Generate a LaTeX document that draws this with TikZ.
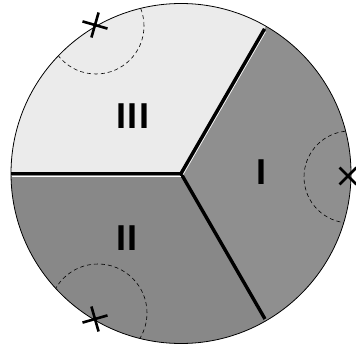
\documentclass[tikz,border=0pt]{standalone}
\usepackage{fontspec}
\setmainfont{Liberation Sans}
\definecolor{regI}{RGB}{143,143,143}
\definecolor{regII}{RGB}{136,136,136}
\definecolor{regIII}{RGB}{235,235,235}
\begin{document}
\begin{tikzpicture}[x=1pt,y=1pt,
  rim/.style={draw=black,line width=0.8pt},
  wall/.style={draw=black,line width=3.4pt},
  seam/.style={draw=white,line width=0.6pt},
  guide/.style={draw=black,line width=0.6pt,dash pattern=on 4pt off 3pt},
  crossline/.style={draw=black,line width=2.6pt},
  lab/.style={inner sep=0pt,font=\fontsize{36}{40}\selectfont\bfseries\addfontfeatures{LetterSpace=4.7}}]
\useasboundingbox (0,0) rectangle (356,346);
\coordinate (C) at (181,172.5);
% sectors
\fill[regIII] (C) -- ++(60:170pt) arc[start angle=60,end angle=180,radius=170pt] -- cycle;
\fill[regII] (C) -- ++(180:170pt) arc[start angle=180,end angle=300,radius=170pt] -- cycle;
\fill[regI] (C) -- ++(-60:170pt) arc[start angle=-60,end angle=60,radius=170pt] -- cycle;
% dashed guide circles, inside the disk only
\coordinate (gt) at (96,320);
\coordinate (gb) at (98,33);
\coordinate (gr) at (350,169);
\begin{scope}
  \clip (C) circle[radius=170pt];
  \draw[guide] (gt) circle[radius=48pt];
  \draw[guide] (gb) circle[radius=49pt];
  \draw[guide] (gr) circle[radius=46pt];
\end{scope}
% outline
\draw[rim] (C) circle[radius=170pt];
% boundaries
\draw[wall] (C) -- ++(60:167pt);
\draw[wall] (C) -- ++(180:170pt);
\draw[wall] (C) -- ++(300:168pt);
\draw[seam] ([shift={(-30:2.4pt)}]C) -- ++(60:165pt);
\draw[seam] ([shift={(-90:2.4pt)}]C) -- ++(180:169.5pt);
% crosses
\coordinate (xt) at (95,321);
\coordinate (xb) at (95,27);
\coordinate (xr) at (348,170);
\draw[crossline] ([shift={(-16:13pt)}]xt) -- ([shift={(164:13pt)}]xt);
\draw[crossline] ([shift={(74:13pt)}]xt) -- ([shift={(254:13pt)}]xt);
\draw[crossline] ([shift={(16:13pt)}]xb) -- ([shift={(196:13pt)}]xb);
\draw[crossline] ([shift={(106:13pt)}]xb) -- ([shift={(286:13pt)}]xb);
\draw[crossline] ([shift={(45:12pt)}]xr) -- ([shift={(225:12pt)}]xr);
\draw[crossline] ([shift={(135:12pt)}]xr) -- ([shift={(315:12pt)}]xr);
% labels
\node[lab] (l3) at (133,230) {III};
\node[lab] (l2) at (127,108) {II};
\node[lab] (l1) at (261,174) {I};
\end{tikzpicture}
\end{document}
